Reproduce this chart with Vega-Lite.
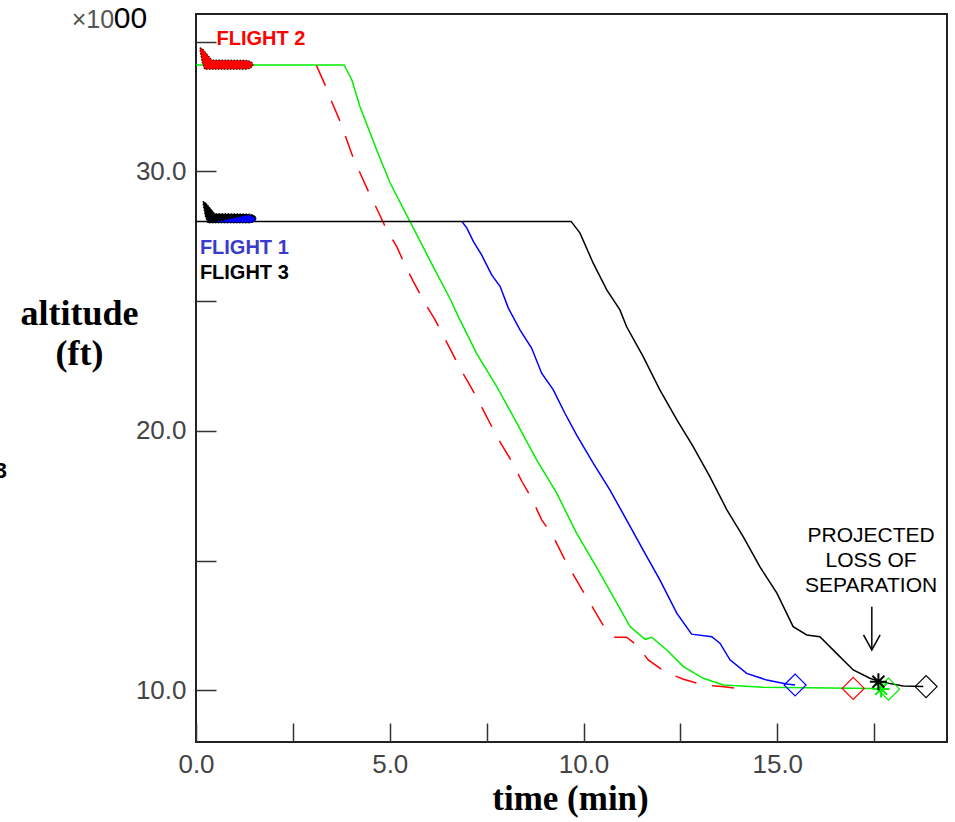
{
  "$schema": "https://vega.github.io/schema/vega-lite/v6.json",
  "width": 751,
  "height": 728,
  "autosize": {"type": "none"},
  "padding": {"left": 196, "top": 14, "right": 8, "bottom": 80},
  "background": "white",
  "config": {"view": {"stroke": "#222", "strokeWidth": 2}},
  "datasets": {
    "traj": [
      {"flight": "Flight 2", "t": 0, "alt": 34.1},
      {"flight": "Flight 2", "t": 3.82, "alt": 34.1},
      {"flight": "Flight 2", "t": 4.02, "alt": 33.53},
      {"flight": "Flight 2", "t": 4.23, "alt": 32.5},
      {"flight": "Flight 2", "t": 4.66, "alt": 30.83},
      {"flight": "Flight 2", "t": 5.01, "alt": 29.55},
      {"flight": "Flight 2", "t": 5.52, "alt": 28.07},
      {"flight": "Flight 2", "t": 6.12, "alt": 26.33},
      {"flight": "Flight 2", "t": 6.55, "alt": 25.11},
      {"flight": "Flight 2", "t": 6.77, "alt": 24.4},
      {"flight": "Flight 2", "t": 7.24, "alt": 22.99},
      {"flight": "Flight 2", "t": 7.76, "alt": 21.71},
      {"flight": "Flight 2", "t": 8.28, "alt": 20.3},
      {"flight": "Flight 2", "t": 8.79, "alt": 18.88},
      {"flight": "Flight 2", "t": 9.31, "alt": 17.6},
      {"flight": "Flight 2", "t": 9.82, "alt": 16.06},
      {"flight": "Flight 2", "t": 10.38, "alt": 14.64},
      {"flight": "Flight 2", "t": 10.77, "alt": 13.61},
      {"flight": "Flight 2", "t": 11.2, "alt": 12.46},
      {"flight": "Flight 2", "t": 11.59, "alt": 11.97},
      {"flight": "Flight 2", "t": 11.76, "alt": 12.05},
      {"flight": "Flight 2", "t": 12.15, "alt": 11.56},
      {"flight": "Flight 2", "t": 12.58, "alt": 10.92},
      {"flight": "Flight 2", "t": 13.09, "alt": 10.47},
      {"flight": "Flight 2", "t": 13.61, "alt": 10.21},
      {"flight": "Flight 2", "t": 14.64, "alt": 10.12},
      {"flight": "Flight 2", "t": 17.48, "alt": 10.08},
      {"flight": "Flight 2", "t": 17.7, "alt": 10.08},

      {"flight": "Flight 2 projected", "t": 3.11, "alt": 34.07},
      {"flight": "Flight 2 projected", "t": 3.33, "alt": 33.33},
      {"flight": "Flight 2 projected", "t": 3.5, "alt": 32.69},
      {"flight": "Flight 2 projected", "t": 3.72, "alt": 31.92},
      {"flight": "Flight 2 projected", "t": 4.06, "alt": 30.51},
      {"flight": "Flight 2 projected", "t": 4.45, "alt": 29.22},
      {"flight": "Flight 2 projected", "t": 4.7, "alt": 28.45},
      {"flight": "Flight 2 projected", "t": 4.92, "alt": 27.75},
      {"flight": "Flight 2 projected", "t": 5.18, "alt": 27.1},
      {"flight": "Flight 2 projected", "t": 5.39, "alt": 26.4},
      {"flight": "Flight 2 projected", "t": 5.61, "alt": 25.75},
      {"flight": "Flight 2 projected", "t": 5.91, "alt": 24.92},
      {"flight": "Flight 2 projected", "t": 6.17, "alt": 24.28},
      {"flight": "Flight 2 projected", "t": 6.43, "alt": 23.53},
      {"flight": "Flight 2 projected", "t": 6.86, "alt": 22.29},
      {"flight": "Flight 2 projected", "t": 7.11, "alt": 21.65},
      {"flight": "Flight 2 projected", "t": 7.41, "alt": 20.81},
      {"flight": "Flight 2 projected", "t": 7.63, "alt": 20.17},
      {"flight": "Flight 2 projected", "t": 7.89, "alt": 19.46},
      {"flight": "Flight 2 projected", "t": 8.15, "alt": 18.82},
      {"flight": "Flight 2 projected", "t": 8.41, "alt": 18.05},
      {"flight": "Flight 2 projected", "t": 8.66, "alt": 17.41},
      {"flight": "Flight 2 projected", "t": 8.92, "alt": 16.57},
      {"flight": "Flight 2 projected", "t": 9.22, "alt": 15.93},
      {"flight": "Flight 2 projected", "t": 9.5, "alt": 15.09},
      {"flight": "Flight 2 projected", "t": 9.74, "alt": 14.45},
      {"flight": "Flight 2 projected", "t": 10.04, "alt": 13.68},
      {"flight": "Flight 2 projected", "t": 10.3, "alt": 13.04},
      {"flight": "Flight 2 projected", "t": 10.55, "alt": 12.4},
      {"flight": "Flight 2 projected", "t": 10.81, "alt": 12.05},
      {"flight": "Flight 2 projected", "t": 11.11, "alt": 12.05},
      {"flight": "Flight 2 projected", "t": 11.37, "alt": 11.75},
      {"flight": "Flight 2 projected", "t": 11.67, "alt": 11.18},
      {"flight": "Flight 2 projected", "t": 12.1, "alt": 10.72},
      {"flight": "Flight 2 projected", "t": 12.58, "alt": 10.43},
      {"flight": "Flight 2 projected", "t": 13.09, "alt": 10.21},
      {"flight": "Flight 2 projected", "t": 13.57, "alt": 10.15},
      {"flight": "Flight 2 projected", "t": 14.12, "alt": 10.05},

      {"flight": "Flight 1", "t": 6.86, "alt": 28.07},
      {"flight": "Flight 1", "t": 6.99, "alt": 27.81},
      {"flight": "Flight 1", "t": 7.16, "alt": 27.29},
      {"flight": "Flight 1", "t": 7.37, "alt": 26.78},
      {"flight": "Flight 1", "t": 7.63, "alt": 26.01},
      {"flight": "Flight 1", "t": 7.85, "alt": 25.56},
      {"flight": "Flight 1", "t": 8.06, "alt": 24.73},
      {"flight": "Flight 1", "t": 8.36, "alt": 23.89},
      {"flight": "Flight 1", "t": 8.66, "alt": 23.19},
      {"flight": "Flight 1", "t": 8.92, "alt": 22.22},
      {"flight": "Flight 1", "t": 9.22, "alt": 21.58},
      {"flight": "Flight 1", "t": 9.52, "alt": 20.68},
      {"flight": "Flight 1", "t": 9.82, "alt": 19.85},
      {"flight": "Flight 1", "t": 10.25, "alt": 18.76},
      {"flight": "Flight 1", "t": 10.68, "alt": 17.73},
      {"flight": "Flight 1", "t": 11.11, "alt": 16.57},
      {"flight": "Flight 1", "t": 11.54, "alt": 15.41},
      {"flight": "Flight 1", "t": 11.97, "alt": 14.26},
      {"flight": "Flight 1", "t": 12.41, "alt": 12.97},
      {"flight": "Flight 1", "t": 12.79, "alt": 12.17},
      {"flight": "Flight 1", "t": 13.31, "alt": 12.07},
      {"flight": "Flight 1", "t": 13.52, "alt": 11.82},
      {"flight": "Flight 1", "t": 13.78, "alt": 11.18},
      {"flight": "Flight 1", "t": 14.21, "alt": 10.66},
      {"flight": "Flight 1", "t": 14.73, "alt": 10.4},
      {"flight": "Flight 1", "t": 15.24, "alt": 10.25},
      {"flight": "Flight 1", "t": 15.46, "alt": 10.21},

      {"flight": "Flight 3", "t": 0, "alt": 28.07},
      {"flight": "Flight 3", "t": 9.68, "alt": 28.07},
      {"flight": "Flight 3", "t": 9.91, "alt": 27.62},
      {"flight": "Flight 3", "t": 10.25, "alt": 26.46},
      {"flight": "Flight 3", "t": 10.6, "alt": 25.43},
      {"flight": "Flight 3", "t": 10.94, "alt": 24.66},
      {"flight": "Flight 3", "t": 11.11, "alt": 24.02},
      {"flight": "Flight 3", "t": 11.54, "alt": 22.86},
      {"flight": "Flight 3", "t": 11.97, "alt": 21.58},
      {"flight": "Flight 3", "t": 12.41, "alt": 20.42},
      {"flight": "Flight 3", "t": 12.83, "alt": 19.39},
      {"flight": "Flight 3", "t": 13.26, "alt": 18.24},
      {"flight": "Flight 3", "t": 13.7, "alt": 16.96},
      {"flight": "Flight 3", "t": 14.12, "alt": 15.93},
      {"flight": "Flight 3", "t": 14.55, "alt": 14.77},
      {"flight": "Flight 3", "t": 14.99, "alt": 13.75},
      {"flight": "Flight 3", "t": 15.41, "alt": 12.46},
      {"flight": "Flight 3", "t": 15.76, "alt": 12.14},
      {"flight": "Flight 3", "t": 16.1, "alt": 12.07},
      {"flight": "Flight 3", "t": 16.53, "alt": 11.43},
      {"flight": "Flight 3", "t": 16.96, "alt": 10.79},
      {"flight": "Flight 3", "t": 17.39, "alt": 10.47},
      {"flight": "Flight 3", "t": 17.65, "alt": 10.34},
      {"flight": "Flight 3", "t": 18.25, "alt": 10.17},
      {"flight": "Flight 3", "t": 18.77, "alt": 10.15}
    ],
    "diamonds": [
      {"flight": "Flight 1", "t": 15.46, "alt": 10.21},
      {"flight": "Flight 2 projected", "t": 16.96, "alt": 10.08},
      {"flight": "Flight 2", "t": 17.87, "alt": 10.05},
      {"flight": "Flight 3", "t": 18.84, "alt": 10.15}
    ],
    "stars": [
      {"flight": "Flight 2", "t": 17.68, "alt": 10.06},
      {"flight": "Flight 3", "t": 17.61, "alt": 10.34}
    ]
  },
  "data": {"name": "traj"},
  "encoding": {
    "x": {
      "field": "t",
      "type": "quantitative",
      "scale": {"domain": [0, 19.38], "nice": false, "zero": false},
      "axis": {
        "values": [0, 2.5, 5, 7.5, 10, 12.5, 15, 17.5],
        "labelExpr": "datum.value % 5 === 0 ? format(datum.value, '.1f') : ''",
        "domain": false,
        "grid": false,
        "tickSize": -19,
        "tickWidth": 1.5,
        "tickColor": "#333",
        "labelPadding": 28,
        "labelFont": "Liberation Sans",
        "labelFontSize": 26,
        "labelColor": "#444",
        "labelFlush": false,
        "labelOverlap": false,
        "title": "time (min)",
        "titleFont": "Liberation Serif",
        "titleFontSize": 35,
        "titleFontWeight": "bold",
        "titleColor": "#000",
        "titleX": 374,
        "titleY": 67,
        "titleBaseline": "alphabetic",
        "titleAlign": "center",
        "encode": {"ticks": {"update": {"y2": {"signal": "datum.value % 5 === 0 ? -19 : -10"}}}}
      }
    },
    "y": {
      "field": "alt",
      "type": "quantitative",
      "scale": {"domain": [8.015, 36.06], "nice": false, "zero": false},
      "axis": {
        "values": [10, 15, 20, 25, 30, 35],
        "labelExpr": "datum.value % 10 === 0 ? format(datum.value, '.1f') : ''",
        "domain": false,
        "grid": false,
        "tickSize": -20,
        "tickWidth": 1.5,
        "tickColor": "#333",
        "labelPadding": 30,
        "labelFont": "Liberation Sans",
        "labelFontSize": 26,
        "labelColor": "#444",
        "labelFlush": false,
        "labelOverlap": false,
        "title": ["altitude", "(ft)"],
        "titleFont": "Liberation Serif",
        "titleFontSize": 36,
        "titleFontWeight": "bold",
        "titleColor": "#000",
        "titleAngle": 0,
        "titleAlign": "center",
        "titleBaseline": "alphabetic",
        "titleX": -117,
        "titleY": 310,
        "titleLineHeight": 40,
        "encode": {"ticks": {"update": {"x2": {"signal": "datum.value % 10 === 0 ? 20 : 10"}}}}
      }
    }
  },
  "layer": [
    {
      "transform": [{"filter": "datum.flight === 'Flight 2'"}],
      "mark": {"type": "line", "color": "#00ee00", "strokeWidth": 1.5}
    },
    {
      "transform": [{"filter": "datum.flight === 'Flight 2 projected'"}],
      "mark": {"type": "line", "color": "#ff0000", "strokeWidth": 1.5, "strokeDash": [22, 16]}
    },
    {
      "transform": [{"filter": "datum.flight === 'Flight 1'"}],
      "mark": {"type": "line", "color": "#0000ff", "strokeWidth": 1.5}
    },
    {
      "transform": [{"filter": "datum.flight === 'Flight 3'"}],
      "mark": {"type": "line", "color": "#000000", "strokeWidth": 1.5}
    },
    {
      "data": {"name": "diamonds"},
      "mark": {"type": "point", "shape": "diamond", "size": 484, "filled": false, "strokeWidth": 1.2, "opacity": 1},
      "encoding": {
        "color": {
          "field": "flight",
          "type": "nominal",
          "scale": {"domain": ["Flight 1", "Flight 2", "Flight 2 projected", "Flight 3"], "range": ["#0000ff", "#00ee00", "#ff0000", "#000000"]},
          "legend": null
        }
      }
    },
    {
      "data": {"name": "stars"},
      "mark": {"type": "point", "shape": "M-1,0L1,0M0,-1L0,1M-0.7,-0.7L0.7,0.7M-0.7,0.7L0.7,-0.7", "size": 289, "filled": false, "strokeWidth": 2, "opacity": 1},
      "encoding": {
        "color": {
          "field": "flight",
          "type": "nominal",
          "scale": {"domain": ["Flight 1", "Flight 2", "Flight 2 projected", "Flight 3"], "range": ["#0000ff", "#00ee00", "#ff0000", "#000000"]},
          "legend": null
        }
      }
    },
    {
      "data": {"values": [{"t": 0.787, "alt": 34.35}]},
      "mark": {"type": "point", "shape": "M-1,-0.4L-0.9,-0.36L-0.55,0.06L0.7,0.07Q1.02,0.1,1,0.25Q0.98,0.4,0.7,0.41L-0.83,0.41L-0.92,0.14L-1,-0.3Z", "size": 2809, "filled": true, "fill": "#ff0000", "stroke": "#000", "strokeWidth": 1, "strokeDash": [1.5, 1.5], "opacity": 1, "fillOpacity": 1}
    },
    {
      "data": {"values": [{"t": 0.8645, "alt": 28.43}]},
      "mark": {"type": "point", "shape": "M-1,-0.4L-0.9,-0.36L-0.55,0.06L0.7,0.07Q1.02,0.1,1,0.25Q0.98,0.4,0.7,0.41L-0.83,0.41L-0.92,0.14L-1,-0.3Z", "size": 2809, "filled": true, "fill": "#000000", "stroke": "#000", "strokeWidth": 1, "strokeDash": [1.5, 1.5], "opacity": 1, "fillOpacity": 1}
    },
    {
      "data": {"values": [{"t": 0.8645, "alt": 28.43}]},
      "mark": {"type": "point", "shape": "M-0.585,0.385L0.7,0.1L0.92,0.18L1,0.29L0.85,0.4Z", "size": 2809, "filled": true, "fill": "#0000ff", "stroke": "#000", "strokeWidth": 1, "strokeDash": [1.5, 1.5], "opacity": 1, "fillOpacity": 1}
    },
    {
      "data": {"values": [{"t": 17.44, "alt": 13.23, "alt2": 11.56}]},
      "mark": {"type": "rule", "color": "#000", "strokeWidth": 1.5},
      "encoding": {"y2": {"field": "alt2"}}
    },
    {
      "data": {"values": [{"t": 17.225, "alt": 12.14}, {"t": 17.44, "alt": 11.56}, {"t": 17.655, "alt": 12.14}]},
      "mark": {"type": "line", "color": "#000", "strokeWidth": 1.5}
    },
    {
      "data": {"values": [{"t": 17.42, "alt": 15.71, "label": "PROJECTED\nLOSS OF\nSEPARATION"}]},
      "mark": {"type": "text", "font": "Liberation Sans", "fontSize": 21, "fill": "#000", "align": "center", "baseline": "alphabetic", "lineBreak": "\n", "lineHeight": 25},
      "encoding": {"text": {"field": "label"}}
    },
    {
      "data": {"values": [{"t": 0.53, "alt": 34.85, "label": "FLIGHT 2"}]},
      "mark": {"type": "text", "font": "Liberation Sans", "fontSize": 20, "fontWeight": "bold", "fill": "#ff0000", "align": "left", "baseline": "alphabetic"},
      "encoding": {"text": {"field": "label"}}
    },
    {
      "data": {"values": [{"t": 0.1, "alt": 26.81, "label": "FLIGHT 1"}]},
      "mark": {"type": "text", "font": "Liberation Sans", "fontSize": 20, "fontWeight": "bold", "fill": "#3a3acc", "align": "left", "baseline": "alphabetic"},
      "encoding": {"text": {"field": "label"}}
    },
    {
      "data": {"values": [{"t": 0.1, "alt": 25.85, "label": "FLIGHT 3"}]},
      "mark": {"type": "text", "font": "Liberation Sans", "fontSize": 20, "fontWeight": "bold", "fill": "#000", "align": "left", "baseline": "alphabetic"},
      "encoding": {"text": {"field": "label"}}
    },
    {
      "data": {"values": [{"t": -4.877, "alt": 18.19, "label": "3"}]},
      "mark": {"type": "text", "font": "Liberation Sans", "fontSize": 22, "fontWeight": "bold", "fill": "#000", "align": "right", "baseline": "alphabetic"},
      "encoding": {"text": {"field": "label"}}
    },
    {
      "data": {"values": [{"t": -3.208, "alt": 35.52, "label": "×10"}]},
      "mark": {"type": "text", "font": "Liberation Sans", "fontSize": 25, "fill": "#555", "align": "left", "baseline": "alphabetic"},
      "encoding": {"text": {"field": "label"}}
    },
    {
      "data": {"values": [{"t": -1.26, "alt": 35.52, "label": "00"}]},
      "mark": {"type": "text", "font": "Liberation Sans", "fontSize": 30, "fill": "#000", "align": "right", "baseline": "alphabetic"},
      "encoding": {"text": {"field": "label"}}
    }
  ]
}
